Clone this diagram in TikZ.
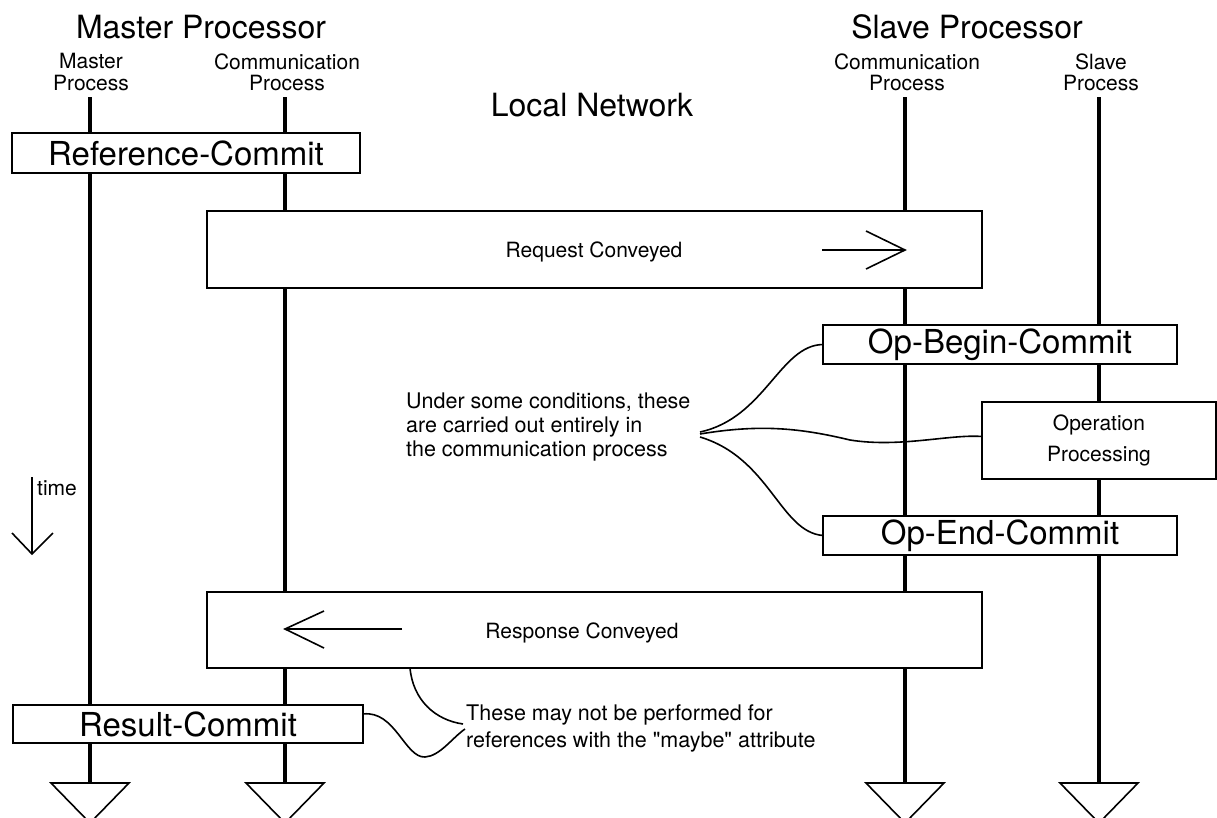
\documentclass[tikz,border=0pt]{standalone}
\usepackage{fontspec}
\setmainfont{TeX Gyre Heros}
\usetikzlibrary{calc}
\begin{document}
\begin{tikzpicture}[x=1pt,y=-1pt,
  life/.style={line width=3.2pt},
  cbox/.style={draw, line width=2.6pt, fill=white, inner sep=0pt, outer sep=0pt},
  bigtxt/.style={font=\fontsize{33}{36}\selectfont},
  titletxt/.style={font=\fontsize{32}{36}\selectfont},
  smalltxt/.style={font=\fontsize{21}{21}\selectfont, align=center},
  notetxt/.style={font=\fontsize{21.5}{24}\selectfont, align=left},
  bendline/.style={line width=1.6pt},
  thinline/.style={line width=1.6pt},
  endtri/.style={line width=1.6pt}]
\useasboundingbox (0,0) rectangle (1217,817);

% headings
\node[titletxt] (mproc) at (201,27) {Master Processor};
\node[titletxt] (sproc) at (967,27) {Slave Processor};
\node[titletxt] (lnet) at (592,105) {Local Network};
\node[smalltxt] (mp) at (91,72) {Master\\Process};
\node[smalltxt] (mc) at (287,72) {Communication\\Process};
\node[smalltxt] (sc) at (907,72) {Communication\\Process};
\node[smalltxt] (sp) at (1101,72) {Slave\\Process};

% lifelines
\foreach \n/\x in {ml/90, mcl/285, scl/905, spl/1099} {
  \coordinate (\n-top) at (\x,97);
  \coordinate (\n-bot) at (\x,783);
  \draw[life] (\n-top) -- (\n-bot);
  \draw[endtri] ($(\n-bot)+(-39,0)$) -- ($(\n-bot)+(39,0)$) -- ($(\n-bot)+(0,40)$) -- cycle;
}

% boxes
\node[cbox, minimum width=348pt, minimum height=40pt, bigtxt] (refc) at (186,153) {Reference-Commit};
\node[cbox, minimum width=775pt, minimum height=77pt] (req) at (594.5,249.5) {};
\node[font=\fontsize{21}{21}\selectfont] (reqt) at (594,252) {Request Conveyed};
\node[cbox, minimum width=354pt, minimum height=39pt, bigtxt] (opb) at (1000,344.5) {Op-Begin-Commit};
\node[cbox, minimum width=234pt, minimum height=77pt, font=\fontsize{21}{31}\selectfont, align=center] (opp) at (1099,440.5) {Operation\\Processing};
\node[cbox, minimum width=354pt, minimum height=39pt, bigtxt] (ope) at (1000,535.5) {Op-End-Commit};
\node[cbox, minimum width=775pt, minimum height=76pt] (resp) at (594.5,630) {};
\node[font=\fontsize{21}{21}\selectfont] (respt) at (582,633) {Response Conveyed};
\node[cbox, minimum width=350pt, minimum height=38pt, bigtxt] (resc) at (188,724) {Result-Commit};

% direction arrows inside the boxes
\draw[thinline] (822,250) -- (905,250);
\draw[thinline] (866,231) -- (905,250) -- (866,269);
\draw[thinline] (402,629) -- (285,629);
\draw[thinline] (324,611) -- (285,629) -- (324,648);

% time arrow
\node[font=\fontsize{21}{21}\selectfont, anchor=west, inner sep=0pt] (timet) at (37,488) {time};
\draw[thinline] (32,477) -- (32,554);
\draw[thinline] (12,533) -- (32,554) -- (53,533);

% annotation 1
\node[notetxt, anchor=west, inner sep=0pt] (note1) at (406,427) {Under some conditions, these\\are carried out entirely in\\the communication process};
\coordinate (hubA) at (700,432);
\coordinate (hubB) at (700,434);
\coordinate (hubC) at (700,437);
\draw[bendline] (hubA) .. controls (765,418) and (780,345) .. (opb.west);
\draw[bendline] (hubB) .. controls (760,424) and (800,428) .. (850,440) .. controls (900,448) and (950,434) .. ($(opp.west)+(0,-4)$);
\draw[bendline] (hubC) .. controls (770,458) and (780,532) .. (ope.west);

% annotation 2
\node[font=\fontsize{21.5}{27}\selectfont, align=left, anchor=west, inner sep=0pt] (note2) at (466,728) {These may not be performed for\\references with the \textquotedbl maybe\textquotedbl{} attribute};
\coordinate (hubD) at (463,724);
\coordinate (hubE) at (465,729);
\draw[bendline] ($(resp.south west)+(203,0)$) .. controls (413,700) and (435,720) .. (hubD);
\draw[bendline] ($(resc.east)+(0,-10)$) .. controls (395,710) and (405,758) .. (425,757) .. controls (440,756) and (452,738) .. (hubE);
\end{tikzpicture}
\end{document}
